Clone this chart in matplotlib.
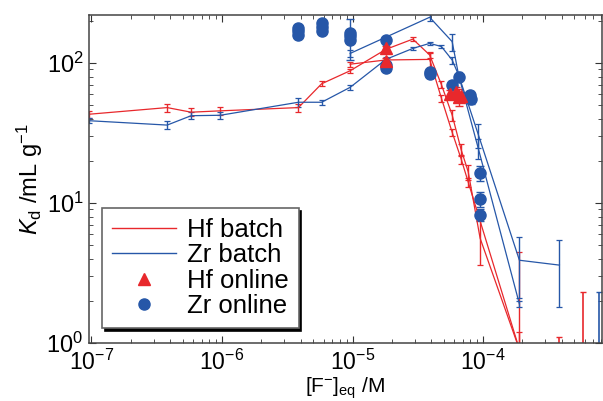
import numpy as np
import matplotlib
matplotlib.use("Agg")
import matplotlib.pyplot as plt
from matplotlib.lines import Line2D

plt.rcParams['font.family'] = ['Liberation Sans', 'DejaVu Sans']
plt.rcParams['mathtext.fontset'] = 'custom'
plt.rcParams['mathtext.rm'] = 'Liberation Sans'
plt.rcParams['mathtext.it'] = 'Liberation Sans:italic'

RED = '#e8282c'
BLUE = '#2657a8'

# Hf batch, run 1
hf1_x = [9.5e-8, 3.8e-7, 5.8e-7, 9.7e-7, 3.85e-6, 5.8e-6, 9.6e-6, 1.8e-5, 2.9e-5,
         3.9e-5, 4.8e-5, 5.8e-5, 6.8e-5, 7.7e-5, 9.5e-5, 1.9e-4]
hf1_y = [43, 48, 44.5, 45.5, 48, 71, 88, 125, 148,
         114, 70, 42.5, 24, 16.7, 5.6, 0.9]
hf1_e = [2.5, 3, 3, 3, 3, 3, 3, 4, 5,
         5, 4, 4, 2.5, 2, 2, 3.6]

# Hf batch, run 2
hf2_x = [9.6e-6, 1.8e-5, 3.9e-5, 4.8e-5, 5.8e-5, 6.8e-5, 7.7e-5, 1.9e-4]
hf2_y = [98, 105, 106, 56, 32, 20.6, 14.1, 0.9]
hf2_e = [4, 4, 12, 3, 2, 1.5, 1, 0.3]

# Zr batch, run 1
zr1_x = [9.5e-8, 3.8e-7, 5.8e-7, 9.7e-7, 3.85e-6, 5.8e-6, 9.6e-6, 1.8e-5, 2.9e-5,
         3.9e-5, 4.8e-5, 5.8e-5, 6.5e-5, 9.2e-5, 1.9e-4]
zr1_y = [38.7, 36, 42, 42.3, 52.4, 52.4, 67, 106, 127,
         138, 131, 105, 82, 24.5, 1.9]
zr1_e = [1.5, 2.5, 2.5, 2.5, 4, 2, 3, 5, 4,
         4, 4, 6, 4, 4, 0.1]

# Zr batch, run 2
zr2_x = [9.6e-6, 3.9e-5, 5.8e-5, 6.5e-5, 9.2e-5, 1.9e-4, 3.85e-4]
zr2_y = [117, 212, 142, 82, 30.8, 3.9, 3.6]
zr2_e = [6, 12, 20, 4, 6, 1.8, 1.8]

# batch points below the axis range (only their error bars show)
low_hf_x = [3.85e-4, 5.8e-4]
low_hf_y = [0.6, 0.5]
low_hf_e = [0.5, 1.8]
low_zr_x = [7.8e-4]
low_zr_y = [0.5]
low_zr_e = [1.8]

# online experiments
hfon_x = [1.8e-5, 1.8e-5, 5.6e-5, 6.2e-5, 6.5e-5, 6.8e-5]
hfon_y = [128, 103, 60, 62, 57, 58]
hfon_e = [5, 5, 4, 5, 8, 4]

zron_x = [3.85e-6, 3.85e-6, 3.85e-6, 5.8e-6, 5.8e-6, 5.8e-6, 9.6e-6, 9.6e-6, 9.6e-6,
          1.8e-5, 1.8e-5, 1.8e-5, 3.9e-5, 3.9e-5, 5.8e-5, 6.5e-5, 7.9e-5, 8.1e-5,
          9.5e-5, 9.5e-5, 9.5e-5]
zron_y = [178, 168, 158, 192, 180, 168, 163, 155, 146,
          146, 97, 92, 86, 83, 70, 80, 59, 55,
          16.3, 10.6, 8.2]
zron_e = [8, 8, 8, 8, 8, 8, 8, 50, 8,
          6, 5, 5, 4, 4, 4, 4, 4, 4,
          2, 1.3, 0.8]


def err_pair(y, e):
    y = np.asarray(y, float)
    e = np.asarray(e, float)
    return [np.minimum(e, y * 0.99), e]


fig = plt.figure(figsize=(6.03, 4.01), dpi=100)
ax = fig.add_axes([0.1476, 0.1446, 0.8504, 0.818])

for x, y, e, c in [(hf1_x, hf1_y, hf1_e, RED), (hf2_x, hf2_y, hf2_e, RED),
                   (zr1_x, zr1_y, zr1_e, BLUE), (zr2_x, zr2_y, zr2_e, BLUE)]:
    ax.errorbar(x, y, yerr=err_pair(y, e), color=c, lw=0.9, elinewidth=1.0,
                capsize=2, capthick=0.9)

for x, y, e, c in [(low_hf_x, low_hf_y, low_hf_e, RED),
                   (low_zr_x, low_zr_y, low_zr_e, BLUE)]:
    ax.errorbar(x, y, yerr=err_pair(y, e), fmt='none', ecolor=c,
                elinewidth=1.2, capsize=2.5)

ax.errorbar(zron_x, zron_y, yerr=err_pair(zron_y, zron_e), fmt='o', ms=8,
            color=BLUE, ecolor=BLUE, elinewidth=1.0, capsize=3)
ax.errorbar(hfon_x, hfon_y, yerr=err_pair(hfon_y, hfon_e), fmt='^', ms=8,
            color=RED, ecolor=RED, elinewidth=1.0, capsize=3)

ax.set_xscale('log')
ax.set_yscale('log')
ax.set_xlim(9.57e-8, 8.13e-4)
ax.set_ylim(1, 220)

ax.tick_params(which='both', direction='in', top=True, right=True,
               labelsize=17, color='#333333')
ax.tick_params(axis='x', which='major', pad=5, labelsize=16.5)
ax.tick_params(axis='y', which='major', pad=4)
ax.tick_params(which='major', length=5)
ax.tick_params(which='minor', length=3)
for s in ax.spines.values():
    s.set_color('#444444')
    s.set_linewidth(1.1)

ax.set_xlabel(r'[F$^{-}$]$_{\rm eq}$ /M', fontsize=15, labelpad=0)
ax.set_ylabel(r'$K_{\rm d}$ /mL g$^{-1}$', fontsize=17, labelpad=1)

handles = [Line2D([], [], color=RED, lw=1),
           Line2D([], [], color=BLUE, lw=1),
           Line2D([], [], ls='none', marker='^', ms=8, color=RED),
           Line2D([], [], ls='none', marker='o', ms=8, color=BLUE)]
labels = ['Hf batch', 'Zr batch', 'Hf online', 'Zr online']
leg = ax.legend(handles, labels, loc='lower left', bbox_to_anchor=(0.025, 0.045),
                borderaxespad=0, fontsize=18.5, fancybox=False, framealpha=1,
                edgecolor='#666666', shadow={'color': 'black', 'alpha': 1},
                handlelength=2.5, handletextpad=0.4, labelspacing=0.05,
                borderpad=0.4)
leg.get_frame().set_linewidth(1.2)

fig.savefig('out.png', dpi=100)
